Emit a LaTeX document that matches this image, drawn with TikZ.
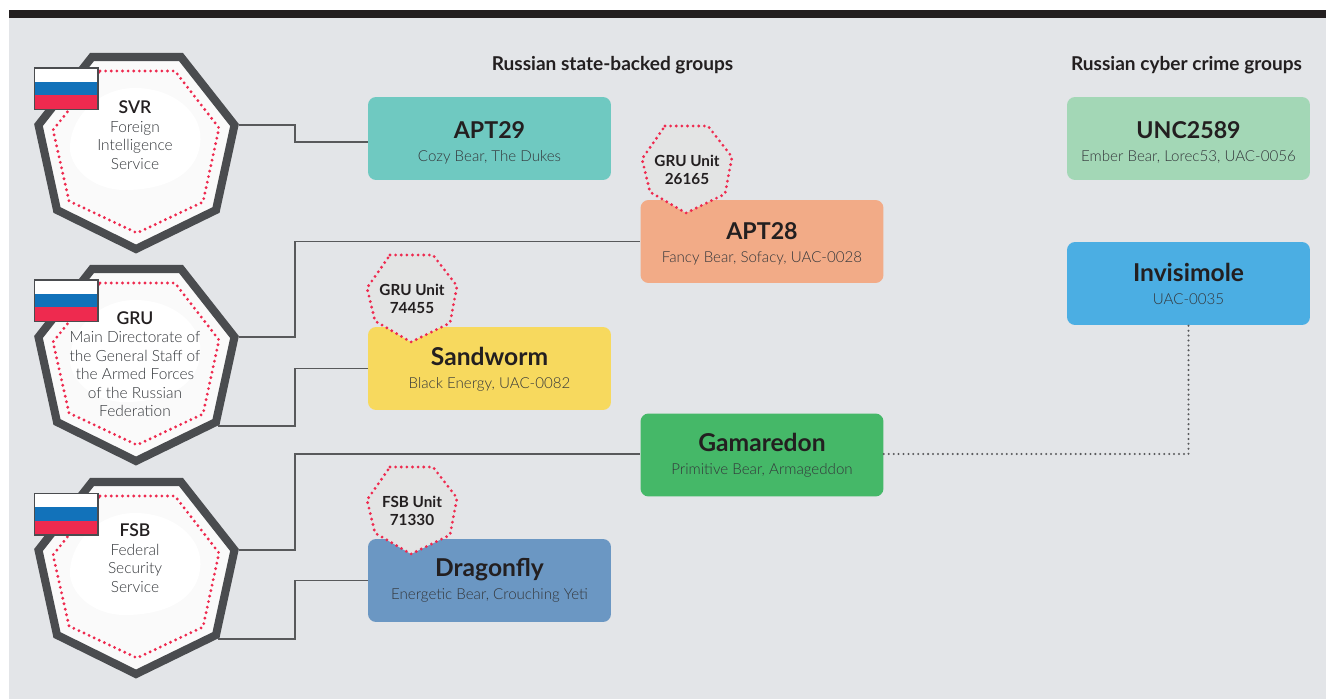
\documentclass[tikz,border=0pt]{standalone}
\usepackage{fontspec}
\setmainfont{Lato}
\newfontfamily\lightFont{Lato Light}
\usetikzlibrary{calc}
\definecolor{panelGray}{HTML}{E3E5E8}
\definecolor{barBlack}{HTML}{231F20}
\definecolor{octDark}{HTML}{4A4C4F}
\definecolor{octFill}{HTML}{FAFAFA}
\definecolor{dotRed}{HTML}{EE2A4F}
\definecolor{unitFill}{HTML}{E3E4E4}
\definecolor{lineGray}{HTML}{58595B}
\definecolor{subText}{HTML}{33363A}
\definecolor{flagBlue}{HTML}{1272BA}
\tikzset{
	groupBox/.style={rounded corners=0.16cm, minimum width=4.86cm, minimum height=1.66cm, inner sep=0pt, align=center, text=barBlack},
	linkLine/.style={draw=lineGray, line width=1.1pt},
	dotLine/.style={draw=lineGray, line width=1.3pt, line cap=round, dash pattern=on 0pt off 2.8pt},
	redDots/.style={draw=dotRed, line width=1.8pt, line cap=round, dash pattern=on 0pt off 3.2pt},
	agencyText/.style={align=center, inner sep=0pt, text=subText, font=\fontsize{8.8}{10.5}\selectfont\lightFont},
	unitText/.style={align=center, inner sep=0pt, text=barBlack, font=\fontsize{8.7}{10.2}\selectfont\bfseries},
	headText/.style={inner sep=0pt, text=barBlack, font=\fontsize{10.85}{12}\selectfont\bfseries}
}
\newcommand{\boxText}[4]{\rule{0pt}{#2pt}{\fontsize{#1}{15}\selectfont\bfseries #3}\\[1pt]\rule[-2.5pt]{0pt}{0pt}{\fontsize{8.6}{10}\selectfont\lightFont\color{subText} #4}}
\newcommand{\agencyName}[1]{{\fontsize{10}{10.5}\selectfont\bfseries\color{barBlack} #1}}
\newcommand{\drawAgency}[2]{
	\begin{scope}[shift={(0,#2)}]
		\coordinate (#1Right) at (239,125);
		\coordinate (#1Low) at (218,214);
		\draw[octDark, fill=octFill, line width=4.6pt, miter limit=10] (92,57) -- (181,57) -- (234.5,125) -- (216,210) -- (136,249) -- (57,210) -- (38.5,125) -- cycle;
		\fill[white] (135,88) .. controls (175,88) and (205,115) .. (200,145) .. controls (195,178) and (160,190) .. (125,190) .. controls (90,190) and (68,165) .. (70,145) .. controls (72,115) and (100,88) .. (135,88);
		\draw[redDots] (100,71) -- (175,71) -- (219,128) -- (203,202) -- (137,233) -- (69,201) -- (53,130) -- cycle;
		\fill[octDark] (33.5,67.5) rectangle (98.5,110.5);
		\fill[white] (35,69) rectangle (97,82);
		\fill[flagBlue] (35,82) rectangle (97,95.5);
		\fill[dotRed] (35,95.5) rectangle (97,109);
	\end{scope}
}
\newcommand{\drawUnit}[3]{
	\begin{scope}[shift={(#2)}]
		\fill[unitFill] (23,0) -- (66,0) -- (90,31) -- (83,68) -- (44,87) -- (8,66) -- (0,33) -- cycle;
		\draw[redDots] (23,0) -- (66,0) -- (90,31) -- (83,68) -- (44,87) -- (8,66) -- (0,33) -- cycle;
		\node[unitText] (#1) at (45,44) {#3};
	\end{scope}
}

\begin{document}
\begin{tikzpicture}[x=0.02cm,y=-0.02cm]
	\useasboundingbox (0,0) rectangle (1326,699);
	\fill[panelGray] (9,18) rectangle (1326,699);
	\fill[barBlack] (9,10) rectangle (1326,18);

	\node[headText] (stateHead) at (612.5,65) {Russian state-backed groups};
	\node[headText] (crimeHead) at (1186.5,65) {Russian cyber crime groups};

	\node[groupBox, fill={rgb,255:red,111;green,201;blue,193}] (apt29) at (489.5,138.5) {\boxText{13.2}{15.2}{APT29}{Cozy Bear, The Dukes}};
	\node[groupBox, fill={rgb,255:red,242;green,171;blue,135}] (apt28) at (762,241.5) {\boxText{13.2}{12.9}{APT28}{Fancy Bear, Sofacy, UAC-0028}};
	\node[groupBox, fill={rgb,255:red,247;green,217;blue,94}] (sandworm) at (489.5,368.5) {\boxText{14}{11.8}{Sandworm}{Black Energy, UAC-0082}};
	\node[groupBox, fill={rgb,255:red,69;green,184;blue,104}] (gamaredon) at (762,455) {\boxText{14}{11.8}{Gamaredon}{Primitive Bear, Armageddon}};
	\node[groupBox, fill={rgb,255:red,107;green,151;blue,195}] (dragonfly) at (489.5,580.5) {\boxText{14}{10.6}{Dragonfly}{Energetic Bear, Crouching Yeti}};
	\node[groupBox, fill={rgb,255:red,163;green,215;blue,182}] (unc2589) at (1188.5,138.5) {\boxText{13.2}{15.2}{UNC2589}{Ember Bear, Lorec53, UAC-0056}};
	\node[groupBox, fill={rgb,255:red,75;green,174;blue,227}] (invisimole) at (1188.5,283.5) {\boxText{14}{12.9}{Invisimole}{UAC-0035}};

	\drawAgency{svr}{0}
	\drawAgency{gru}{212}
	\drawAgency{fsb}{425}

	\node[agencyText] (svrText) at (135,135) {\agencyName{SVR}\\Foreign\\Intelligence\\Service};
	\node[agencyText] (gruText) at (135,364) {\agencyName{GRU}\\Main Directorate of\\the General Staff of\\the Armed Forces\\of the Russian\\Federation};
	\node[agencyText] (fsbText) at (135,558) {\agencyName{FSB}\\Federal\\Security\\Service};

	\draw[linkLine] (svrRight) -- ++(56,0) |- ([yshift=-0.07cm]apt29.west);
	\draw[linkLine] (gruRight) -- ++(56,0) |- (apt28.west);
	\draw[linkLine] (gruLow) -- ++(77,0) |- (sandworm.west);
	\draw[linkLine] (fsbRight) -- ++(56,0) |- ([yshift=0.02cm]gamaredon.west);
	\draw[linkLine] (fsbLow) -- ++(77,0) |- (dragonfly.west);
	\draw[dotLine] ([yshift=0.02cm]gamaredon.east) -| (invisimole.south);

	\drawUnit{unitA}{642,126}{GRU Unit\\26165}
	\drawUnit{unitB}{367,255}{GRU Unit\\74455}
	\drawUnit{unitC}{367,467}{FSB Unit\\71330}
\end{tikzpicture}
\end{document}
